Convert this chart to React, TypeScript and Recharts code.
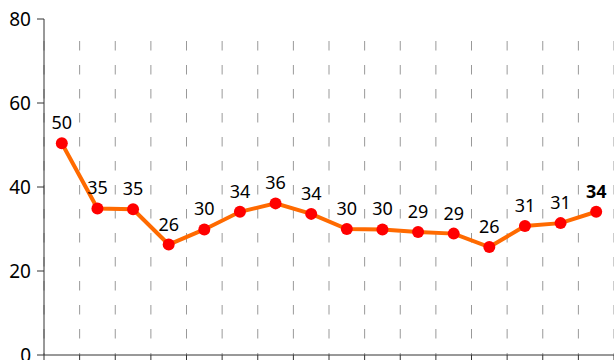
import React from 'react';
import { LineChart, Line, XAxis, YAxis, CartesianGrid, LabelList } from 'recharts';

const categories = ['1', '2', '3', '4', '5', '6', '7', '8', '9', '10', '11', '12', '13', '14', '15', '16'];
const values = [50.4, 34.9, 34.7, 26.3, 29.9, 34.1, 36.1, 33.6, 30.0, 29.9, 29.3, 28.9, 25.7, 30.7, 31.4, 34.1];
const yTicks = [0, 20, 40, 60, 80];
const xBoundaries = [...categories.map((_, i) => i), categories.length];

const data = categories.map((c, i) => ({ category: c, pos: i + 0.5, value: values[i] }));

const FONT = '"Noto Sans", "Open Sans", sans-serif';

const renderLabel = (props: any) => {
  const { x, y, value, index } = props;
  const last = index === values.length - 1;
  return (
    <text
      x={x}
      y={y - 14}
      textAnchor="middle"
      fill="#000"
      fontSize={18}
      fontFamily={FONT}
      fontWeight={last ? 700 : 400}
    >
      {Math.round(value)}
    </text>
  );
};

const renderVertical = (props: any) => {
  const { x1, y1, x2, y2, key } = props;
  return (
    <line
      key={key}
      x1={x1}
      x2={x2}
      y1={y1 + 22}
      y2={y2}
      stroke="#999"
      strokeWidth={1}
      strokeDasharray="9.5 14.5"
    />
  );
};

export default function App() {
  return (
    <div style={{ position: 'fixed', top: 0, left: 0, width: 614, height: 360, overflow: 'hidden', background: '#fff' }}>
      <LineChart
        width={614}
        height={400}
        data={data}
        margin={{ top: 19, right: 0, left: 0, bottom: 15 }}
        style={{ fontFamily: FONT }}
      >
        <CartesianGrid horizontal={false} vertical={renderVertical} />
        <XAxis
          type="number"
          dataKey="pos"
          domain={[0, categories.length]}
          ticks={xBoundaries}
          interval={0}
          tickFormatter={() => ''}
          height={30}
          stroke="#333"
          tickSize={6}
        />
        <YAxis
          domain={[0, 80]}
          ticks={yTicks}
          width={44}
          tickSize={7}
          tickMargin={6}
          stroke="#333"
          tick={{ fill: '#000', fontSize: 19, fontFamily: FONT }}
        />
        <Line
          type="linear"
          dataKey="value"
          stroke="#ff6a00"
          strokeWidth={4}
          dot={{ r: 6, fill: '#ff0000', stroke: 'none' }}
          activeDot={false}
          isAnimationActive={false}
        >
          <LabelList dataKey="value" content={renderLabel} />
        </Line>
      </LineChart>
    </div>
  );
}
